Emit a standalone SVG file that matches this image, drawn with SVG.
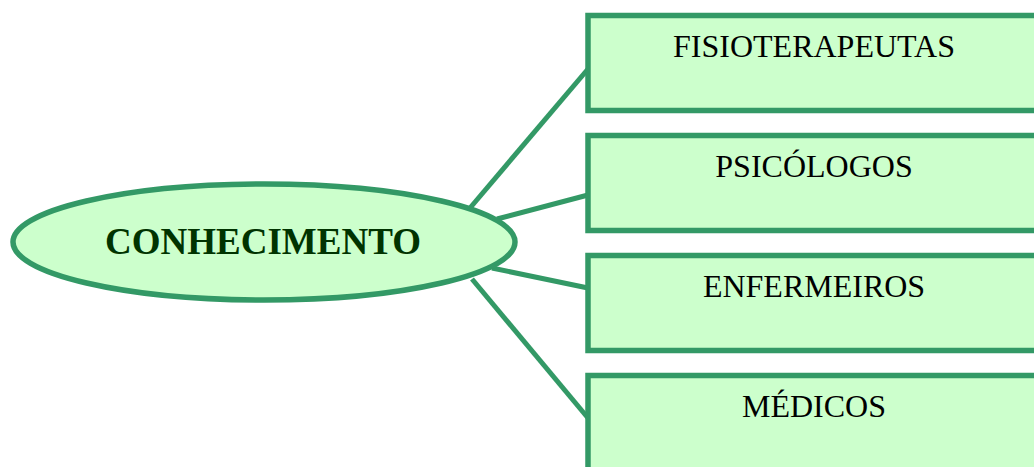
<svg xmlns="http://www.w3.org/2000/svg" width="1034" height="467" viewBox="0 0 1034 467">
  <style>
    .edge { stroke: #339966; stroke-width: 5; fill: none; }
    .shape { fill: #ccffcc; stroke: #339966; stroke-width: 5.5; }
    .title { font-family: "Liberation Serif", "Times New Roman", serif; font-weight: bold; font-size: 37px; fill: #003300; text-anchor: middle; }
    .label { font-family: "Liberation Serif", "Times New Roman", serif; font-size: 32px; fill: #000000; text-anchor: middle; }
  </style>
  <rect width="1034" height="467" fill="#ffffff"/>

  <!-- connectors from the central ellipse to each box -->
  <g id="connectors">
    <line class="edge" x1="470" y1="208" x2="588" y2="69"/>
    <line class="edge" x1="497" y1="219" x2="588" y2="195"/>
    <line class="edge" x1="492" y1="268" x2="588" y2="288"/>
    <line class="edge" x1="472" y1="279" x2="588" y2="418"/>
  </g>

  <g id="node-conhecimento">
    <ellipse class="shape" cx="264" cy="242" rx="251" ry="58"/>
    <text class="title" x="263" y="254">CONHECIMENTO</text>
  </g>

  <g id="node-fisioterapeutas">
    <rect class="shape" x="588" y="15.5" width="452" height="95"/>
    <text class="label" x="814" y="57">FISIOTERAPEUTAS</text>
  </g>

  <g id="node-psicologos">
    <rect class="shape" x="588" y="135.5" width="452" height="95"/>
    <text class="label" x="814" y="177">PSICÓLOGOS</text>
  </g>

  <g id="node-enfermeiros">
    <rect class="shape" x="588" y="255.5" width="452" height="95"/>
    <text class="label" x="814" y="297">ENFERMEIROS</text>
  </g>

  <g id="node-medicos">
    <rect class="shape" x="588" y="375.5" width="452" height="95"/>
    <text class="label" x="814" y="417">MÉDICOS</text>
  </g>
</svg>
